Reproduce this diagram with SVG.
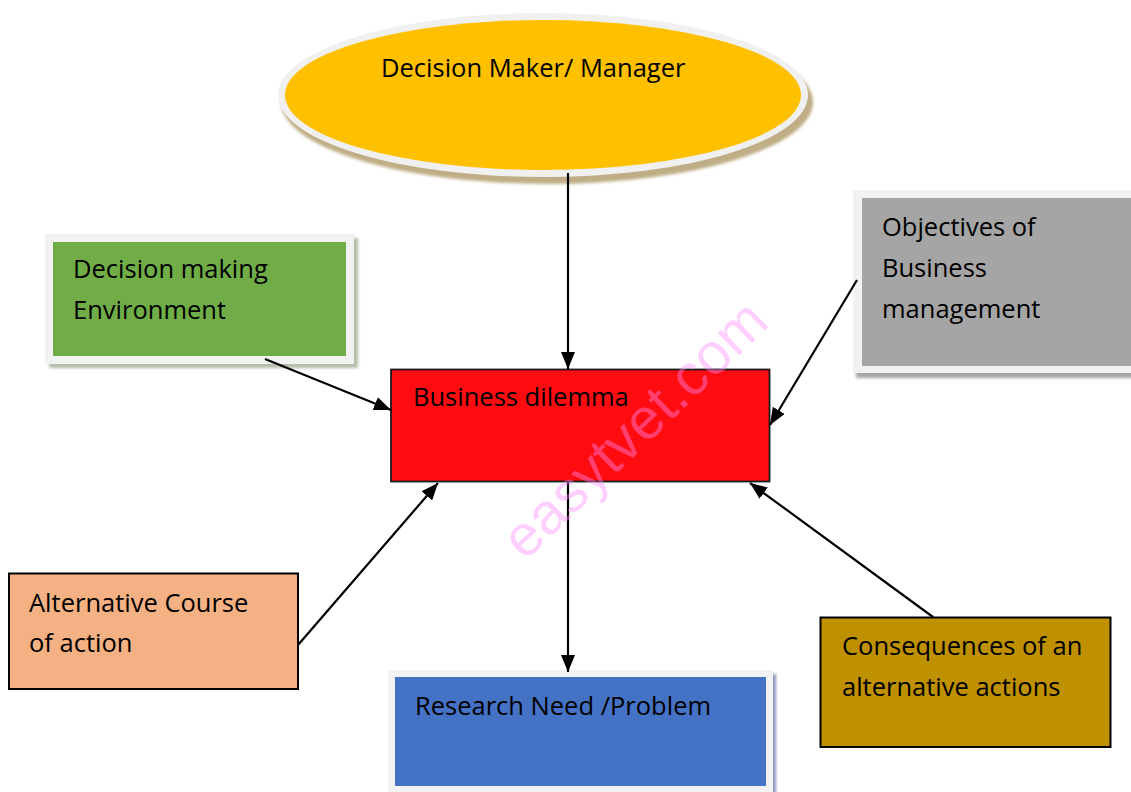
<svg xmlns="http://www.w3.org/2000/svg" width="1131" height="792" viewBox="0 0 1131 792">
  <style>
    .lbl { font-family: "Open Sans", "Liberation Sans", sans-serif; font-size: 25.5px; fill: #000; }
    .frame { fill: #f2f2f2; }
    .edge { stroke: #000; stroke-width: 2.2; fill: none; marker-end: url(#arrow); }
    .wm { font-family: "Liberation Sans", Arial, sans-serif; font-size: 58px; fill: #ff8cff; opacity: 0.4; }
  </style>
  <defs>
    <marker id="arrow" viewBox="0 0 17 14" refX="17" refY="7" markerWidth="17" markerHeight="14" markerUnits="userSpaceOnUse" orient="auto">
      <path d="M0,0 L17,7 L0,14 Z" fill="#000"/>
    </marker>
    <filter id="soft" x="-10%" y="-10%" width="120%" height="130%">
      <feGaussianBlur stdDeviation="1.5"/>
    </filter>
  </defs>

  <rect width="1131" height="792" fill="#fff"/>

  <!-- top ellipse -->
  <g id="decision-maker">
    <ellipse cx="547" cy="102" rx="266" ry="82" fill="#bfad85" filter="url(#soft)"/>
    <ellipse cx="543" cy="95" rx="265" ry="82" fill="#f0f0f0"/>
    <ellipse cx="543" cy="95" rx="258" ry="75" fill="#ffc000"/>
    <text class="lbl" x="381" y="77">Decision Maker/ Manager</text>
  </g>

  <!-- left upper box -->
  <g id="environment">
    <rect x="49" y="238" width="309" height="130" fill="#b3bda7" filter="url(#soft)"/>
    <rect class="frame" x="45" y="234" width="309" height="130"/>
    <rect x="53" y="242" width="293" height="114" fill="#70ad47"/>
    <text class="lbl" x="73" y="278">Decision making</text>
    <text class="lbl" x="73" y="319">Environment</text>
  </g>

  <!-- right upper box -->
  <g id="objectives">
    <rect x="856" y="195" width="280" height="183" fill="#a6a6a6" filter="url(#soft)"/>
    <rect class="frame" x="853" y="190" width="280" height="183"/>
    <rect x="862" y="198" width="271" height="168" fill="#a5a5a5"/>
    <text class="lbl" x="882" y="236">Objectives of</text>
    <text class="lbl" x="882" y="277">Business</text>
    <text class="lbl" x="882" y="318">management</text>
  </g>

  <!-- central box -->
  <g id="dilemma">
    <rect x="391" y="369.5" width="378.5" height="112" fill="#fe0c10" stroke="#1a1a1a" stroke-width="1.8"/>
    <text class="lbl" x="413" y="406">Business dilemma</text>
  </g>

  <!-- left lower box -->
  <g id="alternatives">
    <rect x="9" y="573.5" width="289" height="115.5" fill="#f4b183" stroke="#000" stroke-width="2"/>
    <text class="lbl" x="29" y="612">Alternative Course</text>
    <text class="lbl" x="29" y="652">of action</text>
  </g>

  <!-- right lower box -->
  <g id="consequences">
    <rect x="820.5" y="617.5" width="290" height="129.5" fill="#bf9000" stroke="#000" stroke-width="2"/>
    <text class="lbl" x="842" y="655">Consequences of an</text>
    <text class="lbl" x="842" y="696">alternative actions</text>
  </g>

  <!-- bottom box -->
  <g id="research-need">
    <rect x="391" y="674" width="385" height="122" fill="#8797b8" filter="url(#soft)"/>
    <rect class="frame" x="388" y="670" width="385" height="122"/>
    <rect x="395" y="677" width="371" height="109" fill="#4472c4"/>
    <text class="lbl" x="415" y="715">Research Need /Problem</text>
  </g>

  <!-- connectors -->
  <g id="connectors">
    <line class="edge" x1="568" y1="173" x2="568" y2="369"/>
    <line class="edge" x1="265" y1="359" x2="391" y2="410"/>
    <line class="edge" x1="857" y1="280" x2="770" y2="425"/>
    <line class="edge" x1="298" y1="645" x2="438" y2="483"/>
    <line class="edge" x1="933" y1="617" x2="750" y2="483"/>
    <line class="edge" x1="568" y1="482" x2="568" y2="672"/>
  </g>

  <!-- watermark -->
  <text class="wm" x="648" y="443" text-anchor="middle" transform="rotate(-44 648 443)">easytvet.com</text>
</svg>
